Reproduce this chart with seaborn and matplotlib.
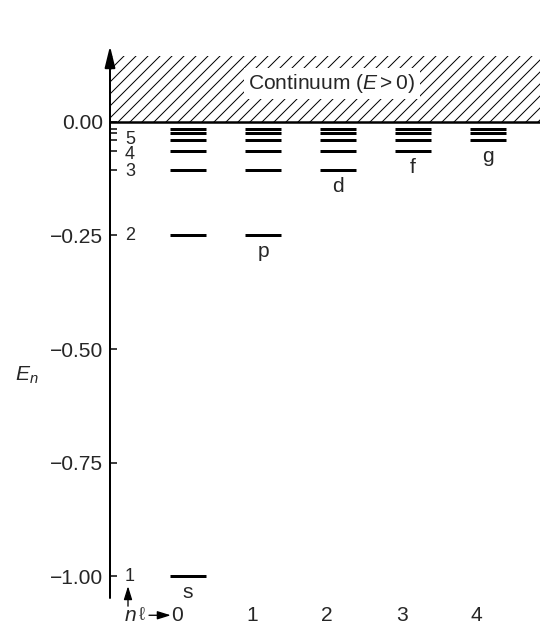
import numpy as np
import pandas as pd
import matplotlib
matplotlib.use("Agg")
import matplotlib.pyplot as plt
import seaborn as sns

# hydrogen levels (E_n ~ -1/n^2) as drawn in the figure, for n = 1..7
n_values = [1, 2, 3, 4, 5, 6, 7]
energies = [-1.00, -0.25, -0.107, -0.064, -0.041, -0.025, -0.015]
ells = [0, 1, 2, 3, 4]
letters = ["s", "p", "d", "f", "g"]
n_labels = ["1", "2", "3", "4", "5"]
energy_ticks = [0.0, -0.25, -0.50, -0.75, -1.00]
energy_labels = ["0.00", "\u22120.25", "\u22120.50", "\u22120.75", "\u22121.00"]
continuum_top = 0.145

rows = []
for l in ells:
    for n, e in zip(n_values, energies):
        if n > l:
            rows.append({"l": l, "n": n, "E": e})
levels = pd.DataFrame(rows)

sns.set_style("ticks")
plt.rcParams["font.family"] = ["Liberation Sans", "DejaVu Sans"]
plt.rcParams["mathtext.fontset"] = "custom"
plt.rcParams["mathtext.rm"] = "Liberation Sans"
plt.rcParams["mathtext.it"] = "Liberation Sans:italic"
plt.rcParams["hatch.linewidth"] = 1.0

fs = 21
fig = plt.figure(figsize=(549 / 72, 625 / 72), dpi=72)
ax = fig.add_axes([110 / 549, 27 / 625, 430 / 549, 552 / 625])

sns.scatterplot(data=levels, x="l", y="E", marker="_", s=36**2,
                linewidth=3, color="black", ax=ax, legend=False, zorder=3)

ax.set_xlim(-1.04, 4.693)
ax.set_ylim(-1.048, 0.167)

# continuum
ax.axhspan(0, continuum_top, facecolor="none", edgecolor="black", hatch="//", lw=0)
ax.axhline(0, color="black", lw=2.5, zorder=4)
ax.text(1.92, 0.084, "Continuum ($E>0$)", ha="center", va="center",
        fontsize=fs, bbox=dict(facecolor="white", edgecolor="none", pad=4), zorder=5)

# axis and ticks
for side in ["top", "right", "bottom", "left"]:
    ax.spines[side].set_visible(False)
ax.annotate("", xy=(0, 1), xytext=(0, 0), xycoords="axes fraction",
            arrowprops=dict(arrowstyle="-|>,head_length=0.9,head_width=0.22",
                            mutation_scale=20, lw=2, color="black",
                            shrinkA=0, shrinkB=0))
ax.set_xticks([])
ax.set_xlabel("")
ax.set_yticks(energy_ticks)
ax.set_yticklabels(energy_labels, fontsize=fs)
ax.set_yticks(energies[2:], minor=True)
ax.tick_params(axis="y", which="both", direction="in", length=7, width=1.5,
               pad=7, color="black")
ax.set_ylabel("$E_n$", rotation=0, fontsize=fs, va="center", ha="center")
ax.yaxis.set_label_coords(-0.193, 0.404)

# n labels next to the axis (4 nudged down as in the figure)
nudge = [0, 0, -1.5, -4, 1]
for i, lab in enumerate(n_labels):
    ax.annotate(lab, xy=(0, energies[i]), xycoords=("axes fraction", "data"),
                xytext=(15, nudge[i]), textcoords="offset points",
                ha="left", va="center", fontsize=18)

# orbital letters under the lowest level of each column
for l, letter in zip(ells, letters):
    e_low = levels.loc[levels["l"] == l, "E"].min()
    ax.annotate(letter, xy=(l, e_low), xytext=(0, -22), textcoords="offset points",
                ha="center", va="baseline", fontsize=fs)

# bottom row: n  l -> 0 1 2 3 4
y_row = -1.086
for l in ells:
    ax.text(l - 0.15, y_row, str(l), ha="center", va="center", fontsize=fs, clip_on=False)
ax.text(-0.773, y_row, "n", ha="center", va="center", fontsize=fs,
        style="italic", clip_on=False)
ax.text(-0.613, y_row, "\u2113", ha="center", va="center", fontsize=fs - 2,
        color="#444444", clip_on=False)
ax.annotate("", xy=(-0.23, y_row), xytext=(-0.52, y_row), annotation_clip=False,
            arrowprops=dict(arrowstyle="-|>,head_length=0.8,head_width=0.25",
                            mutation_scale=14, lw=1.3, color="black",
                            shrinkA=0, shrinkB=0))
ax.annotate("", xy=(-0.80, -1.022), xytext=(-0.80, -1.066), annotation_clip=False,
            arrowprops=dict(arrowstyle="-|>,head_length=0.8,head_width=0.25",
                            mutation_scale=14, lw=1.3, color="black",
                            shrinkA=0, shrinkB=0))

fig.savefig("out.png", dpi=72)
